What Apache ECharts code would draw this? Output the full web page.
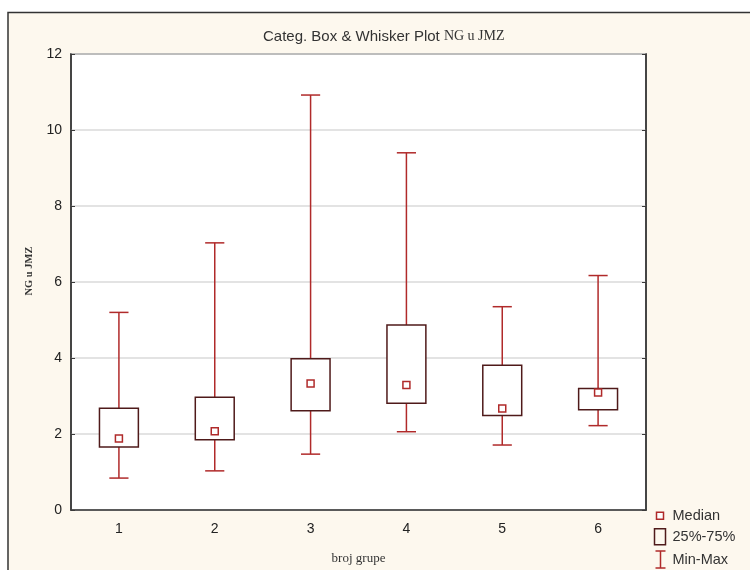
<!DOCTYPE html>
<html><head><meta charset="utf-8">
<script src="https://cdn.jsdelivr.net/npm/echarts@6/dist/echarts.min.js"></script>
<style>html,body{margin:0;padding:0;background:#fff}#c{width:750px;height:570px}</style>
</head><body><div id="c"></div>
<script>
// ---- data ----
const categories = ['1', '2', '3', '4', '5', '6'];
const minVals    = [0.84, 1.03, 1.47, 2.06, 1.71, 2.22];
const q1Vals     = [1.66, 1.85, 2.61, 2.81, 2.49, 2.64];
const medianVals = [1.88, 2.07, 3.33, 3.29, 2.67, 3.09];
const q3Vals     = [2.68, 2.97, 3.98, 4.87, 3.81, 3.20];
const maxVals    = [5.20, 7.03, 10.92, 9.40, 5.35, 6.17];
const yTicks     = [0, 2, 4, 6, 8, 10, 12];

const RED = '#b02a2a';
const BOX = '#4f1a1a';
const SANS = '"Liberation Sans", Arial, sans-serif';
const SERIF = '"Liberation Serif", "Times New Roman", serif';

const whiskerData = categories.map((c, i) => [i, minVals[i], q1Vals[i], q3Vals[i], maxVals[i]]);
const boxData = categories.map((c, i) => [i, q1Vals[i], q3Vals[i]]);
const medianData = categories.map((c, i) => [i, medianVals[i]]);

function whiskerItem(params, api) {
  const x = api.value(0);
  const lo = api.coord([x, api.value(1)]);
  const q1 = api.coord([x, api.value(2)]);
  const q3 = api.coord([x, api.value(3)]);
  const hi = api.coord([x, api.value(4)]);
  const half = api.size([1, 0])[0] * 0.1;
  const style = { stroke: RED, lineWidth: 1.5, fill: null };
  return { type: 'group', children: [
    { type: 'line', shape: { x1: hi[0], y1: hi[1], x2: q3[0], y2: q3[1] }, style },
    { type: 'line', shape: { x1: q1[0], y1: q1[1], x2: lo[0], y2: lo[1] }, style },
    { type: 'line', shape: { x1: hi[0] - half, y1: hi[1], x2: hi[0] + half, y2: hi[1] }, style },
    { type: 'line', shape: { x1: lo[0] - half, y1: lo[1], x2: lo[0] + half, y2: lo[1] }, style }
  ]};
}
function boxItem(params, api) {
  const x = api.value(0);
  const q1 = api.coord([x, api.value(1)]);
  const q3 = api.coord([x, api.value(2)]);
  const half = api.size([1, 0])[0] * 0.203;
  return { type: 'rect',
    shape: { x: q1[0] - half, y: q3[1], width: half * 2, height: q1[1] - q3[1] },
    style: { fill: '#fff', stroke: BOX, lineWidth: 1.5 } };
}

const chart = echarts.init(document.getElementById('c'));
chart.setOption({
  backgroundColor: '#fff',
  animation: false,
  graphic: [{
    type: 'rect', z: -100, silent: true,
    shape: { x: 8, y: 12.5, width: 760, height: 580 },
    style: { fill: '#fdf8ee', stroke: '#333', lineWidth: 1.5 }
  }],
  title: {
    text: '{a|Categ. Box & Whisker Plot }{b|NG u JMZ}',
    left: 258, top: 24,
    textStyle: { rich: {
      a: { fontFamily: SANS, fontSize: 15, fontWeight: 'normal', color: '#333' },
      b: { fontFamily: SERIF, fontSize: 14, fontWeight: 'normal', color: '#333' }
    } }
  },
  grid: { left: 71, top: 54, right: 104, bottom: 59, show: true,
          backgroundColor: '#fff', borderColor: '#3a3a3a', borderWidth: 1.5 },
  legend: {
    orient: 'vertical', left: 651, top: 506, height: 80, padding: 0,
    itemWidth: 14, itemHeight: 18, itemGap: 1.5,
    selectedMode: false,
    textStyle: { fontFamily: SANS, fontSize: 14.5, color: '#333' },
    data: [
      { name: 'Median', icon: 'path://M0,0M14,18M3,5.5h7v7h-7z',
        itemStyle: { color: '#fff', borderColor: RED, borderWidth: 1.5 } },
      { name: '25%-75%', icon: 'path://M0,0M14,18M1,1h11v16h-11z',
        itemStyle: { color: '#fdf8ee', borderColor: BOX, borderWidth: 1.5 } },
      { name: 'Min-Max', icon: 'path://M0,0M14,18M2,0.5H12M7,0.5V17.5M2,17.5H12',
        itemStyle: { color: 'none', borderColor: RED, borderWidth: 1.5 } }
    ]
  },
  xAxis: {
    type: 'category', data: categories,
    name: 'broj grupe', nameLocation: 'middle', nameGap: 42,
    nameTextStyle: { fontFamily: SERIF, fontSize: 13, color: '#333' },
    axisLine: { lineStyle: { color: '#3a3a3a', width: 1.5 } },
    axisTick: { inside: true, alignWithLabel: true, length: 3, lineStyle: { color: '#3a3a3a' } },
    axisLabel: { margin: 12, fontFamily: SANS, fontSize: 14, color: '#222' },
    splitLine: { show: false }
  },
  yAxis: [{
    type: 'value', min: yTicks[0], max: yTicks[yTicks.length - 1], interval: yTicks[1] - yTicks[0],
    name: 'NG u JMZ', nameLocation: 'middle', nameGap: 36,
    nameTextStyle: { fontFamily: SERIF, fontSize: 10.5, fontWeight: 'bold', color: '#333', padding: [0, 0, 0, 22] },
    axisLine: { show: true, lineStyle: { color: '#3a3a3a', width: 1.5 } },
    axisTick: { show: true, inside: true, length: 4, lineStyle: { color: '#3a3a3a' } },
    axisLabel: { margin: 9, fontFamily: SANS, fontSize: 14, color: '#222' },
    splitLine: { show: true, lineStyle: { color: '#dadada', width: 1.5 } }
  }, {
    type: 'value', position: 'right', min: yTicks[0], max: yTicks[yTicks.length - 1], interval: yTicks[1] - yTicks[0],
    axisLine: { show: true, lineStyle: { color: '#3a3a3a', width: 1.5 } },
    axisTick: { show: true, inside: true, length: 4, lineStyle: { color: '#3a3a3a' } },
    axisLabel: { show: false }, splitLine: { show: false }
  }],
  series: [
    { name: 'Min-Max', type: 'custom', renderItem: whiskerItem, data: whiskerData,
      encode: { x: 0, y: [1, 2, 3, 4] }, itemStyle: { color: RED } },
    { name: '25%-75%', type: 'custom', renderItem: boxItem, data: boxData,
      encode: { x: 0, y: [1, 2] }, itemStyle: { color: BOX } },
    { name: 'Median', type: 'scatter', data: medianData, symbol: 'rect', symbolSize: 7,
      itemStyle: { color: '#fff', borderColor: RED, borderWidth: 1.5, opacity: 1 }, z: 5 }
  ]
});
</script></body></html>
